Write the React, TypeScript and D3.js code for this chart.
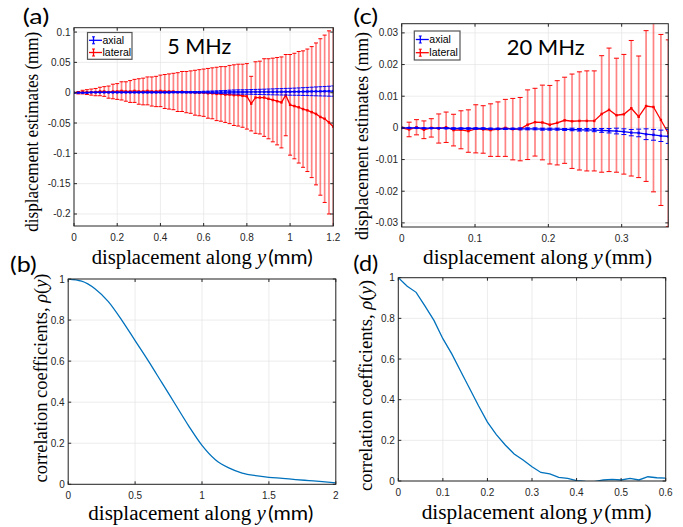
import React from "react";
import * as d3 from "d3";

// ---------- Panel (a): 5 MHz ----------
const aX = [0, 0.02, 0.04, 0.06, 0.08, 0.1, 0.12, 0.14, 0.16, 0.18, 0.2, 0.22, 0.24, 0.26, 0.28, 0.3, 0.32, 0.34, 0.36, 0.38, 0.4, 0.42, 0.44, 0.46, 0.48, 0.5, 0.52, 0.54, 0.56, 0.58, 0.6, 0.62, 0.64, 0.66, 0.68, 0.7, 0.72, 0.74, 0.76, 0.78, 0.8, 0.82, 0.84, 0.86, 0.88, 0.9, 0.92, 0.94, 0.96, 0.98, 1.0, 1.02, 1.04, 1.06, 1.08, 1.1, 1.12, 1.14, 1.16, 1.18, 1.2];
const aLatMean = [0, 0, 0.001, 0.001, 0.001, 0.001, 0.002, 0.002, 0.001, 0.002, 0.002, 0.003, 0.002, 0.002, 0.003, 0.002, 0.002, 0.003, 0.002, 0.002, 0.003, 0.002, 0.002, 0.002, 0.001, 0.002, 0.001, 0.001, 0, 0, 0, -0.001, -0.001, -0.002, -0.002, -0.003, -0.003, -0.004, -0.004, -0.005, -0.006, -0.018, -0.008, -0.008, -0.008, -0.01, -0.012, -0.014, -0.016, -0.004, -0.02, -0.022, -0.024, -0.027, -0.029, -0.032, -0.035, -0.04, -0.043, -0.049, -0.056];
const aLatErr = [0, 0.002, 0.003, 0.004, 0.005, 0.006, 0.007, 0.008, 0.01, 0.012, 0.013, 0.015, 0.016, 0.018, 0.019, 0.021, 0.022, 0.023, 0.024, 0.025, 0.026, 0.028, 0.029, 0.03, 0.032, 0.033, 0.034, 0.035, 0.037, 0.038, 0.039, 0.041, 0.042, 0.044, 0.045, 0.046, 0.048, 0.05, 0.051, 0.052, 0.054, 0.045, 0.059, 0.06, 0.064, 0.066, 0.069, 0.072, 0.075, 0.067, 0.083, 0.087, 0.092, 0.096, 0.101, 0.108, 0.117, 0.129, 0.138, 0.151, 0.175];
const aAxMean = [0, 0, 0, 0, 0.0005, 0.0005, 0.0005, 0.0005, 0.0005, 0.0005, 0.0005, 0.0005, 0.0005, 0.0005, 0.0005, 0.0005, 0.0005, 0.0005, 0.0005, 0.0005, 0.0005, 0.0005, 0.0005, 0.0008, 0.0008, 0.0008, 0.0008, 0.0008, 0.0008, 0.0008, 0.001, 0.001, 0.001, 0.001, 0.001, 0.001, 0.0012, 0.0012, 0.0012, 0.0012, 0.0012, 0.0013, 0.0013, 0.0013, 0.0013, 0.0014, 0.0014, 0.0015, 0.0015, 0.0016, 0.0016, 0.0017, 0.0018, 0.0019, 0.002, 0.0021, 0.0022, 0.0023, 0.0024, 0.0025, 0.0027];
const aAxErr = [0, 0.0001, 0.0001, 0.0001, 0.0001, 0.0002, 0.0002, 0.0002, 0.0002, 0.0003, 0.0003, 0.0003, 0.0003, 0.0004, 0.0004, 0.0004, 0.0004, 0.0005, 0.0005, 0.0005, 0.0005, 0.0006, 0.0006, 0.0007, 0.0007, 0.0008, 0.0009, 0.001, 0.0011, 0.0012, 0.0013, 0.0015, 0.0018, 0.0021, 0.0024, 0.0027, 0.003, 0.0033, 0.0035, 0.0036, 0.0037, 0.0039, 0.0041, 0.0043, 0.0045, 0.0047, 0.0049, 0.0051, 0.0053, 0.0055, 0.0057, 0.0059, 0.0061, 0.0064, 0.0067, 0.007, 0.0073, 0.0076, 0.0079, 0.0082, 0.0085];
const aXTicks = [0, 0.2, 0.4, 0.6, 0.8, 1, 1.2];
const aXTickLabels = ["0", "0.2", "0.4", "0.6", "0.8", "1", "1.2"];
const aYTicks = [-0.2, -0.15, -0.1, -0.05, 0, 0.05, 0.1];
const aYTickLabels = ["-0.2", "-0.15", "-0.1", "-0.05", "0", "0.05", "0.1"];

// ---------- Panel (c): 20 MHz ----------
const cX = [0, 0.0101, 0.0202, 0.0303, 0.0404, 0.0505, 0.0606, 0.0707, 0.0808, 0.0909, 0.101, 0.1111, 0.1212, 0.1313, 0.1414, 0.1515, 0.1616, 0.1717, 0.1818, 0.1919, 0.202, 0.2121, 0.2222, 0.2323, 0.2424, 0.2525, 0.2626, 0.2727, 0.2828, 0.2929, 0.303, 0.3131, 0.3232, 0.3333, 0.3434, 0.3535, 0.3636];
const cLatMean = [0, -0.0005, 0.0002, -0.0006, 0, -0.0002, 0.0002, -0.0007, -0.0006, -0.001, -0.0003, -0.0005, -0.0007, -0.0004, 0, -0.0004, -0.0004, 0.001, 0.0018, 0.0017, 0.001, 0.0016, 0.0024, 0.0021, 0.0022, 0.0022, 0.0022, 0.0044, 0.0057, 0.004, 0.0043, 0.0062, 0.0035, 0.0069, 0.0066, 0.0025, -0.0017];
const cLatErr = [0.0002, 0.0023, 0.0024, 0.0028, 0.0029, 0.0046, 0.0048, 0.005, 0.006, 0.0067, 0.0076, 0.0075, 0.0083, 0.0086, 0.009, 0.0097, 0.01, 0.011, 0.0107, 0.0118, 0.0124, 0.0133, 0.0136, 0.0149, 0.0155, 0.0158, 0.0158, 0.0184, 0.0195, 0.018, 0.0189, 0.0214, 0.0192, 0.0238, 0.0268, 0.027, 0.0295];
const cAxMean = [0, 0, 0, -0.0001, -0.0001, -0.0001, -0.0001, -0.0002, -0.0002, -0.0002, -0.0002, -0.0002, -0.0003, -0.0003, -0.0003, -0.0003, -0.0003, -0.0003, -0.0003, -0.0004, -0.0004, -0.0004, -0.0005, -0.0005, -0.0006, -0.0006, -0.0007, -0.0008, -0.0009, -0.001, -0.0012, -0.0015, -0.0016, -0.002, -0.0022, -0.0025, -0.0027];
const cAxErr = [0.0001, 0.0001, 0.0001, 0.0001, 0.0001, 0.0001, 0.0002, 0.0002, 0.0002, 0.0002, 0.0002, 0.0002, 0.0002, 0.0002, 0.0002, 0.0002, 0.0003, 0.0003, 0.0003, 0.0003, 0.0003, 0.0003, 0.0003, 0.0004, 0.0004, 0.0004, 0.0005, 0.0006, 0.0007, 0.0009, 0.0009, 0.001, 0.0012, 0.0017, 0.0017, 0.0018, 0.0022];
const cXTicks = [0, 0.1, 0.2, 0.3];
const cXTickLabels = ["0", "0.1", "0.2", "0.3"];
const cYTicks = [-0.03, -0.02, -0.01, 0, 0.01, 0.02, 0.03];
const cYTickLabels = ["-0.03", "-0.02", "-0.01", "0", "0.01", "0.02", "0.03"];

// ---------- Panel (b): correlation, 5 MHz ----------
const bX = [0, 0.1, 0.2, 0.3, 0.4, 0.5, 0.6, 0.7, 0.8, 0.9, 1.0, 1.1, 1.2, 1.3, 1.4, 1.5, 1.6, 1.7, 1.8, 1.9, 2.0];
const bRho = [1.0, 0.99, 0.953, 0.89, 0.8, 0.7, 0.6, 0.495, 0.39, 0.285, 0.19, 0.12, 0.08, 0.055, 0.042, 0.034, 0.029, 0.023, 0.018, 0.013, 0.007];
const bXTicks = [0, 0.5, 1, 1.5, 2];
const bXTickLabels = ["0", "0.5", "1", "1.5", "2"];
const bYTicks = [0, 0.2, 0.4, 0.6, 0.8, 1];
const bYTickLabels = ["0", "0.2", "0.4", "0.6", "0.8", "1"];

// ---------- Panel (d): correlation, 20 MHz ----------
const dX = [0, 0.02, 0.04, 0.06, 0.08, 0.1, 0.12, 0.14, 0.16, 0.18, 0.2, 0.22, 0.24, 0.26, 0.28, 0.3, 0.32, 0.34, 0.36, 0.38, 0.4, 0.42, 0.44, 0.46, 0.48, 0.5, 0.52, 0.54, 0.56, 0.58, 0.6];
const dRho = [1.0, 0.958, 0.928, 0.86, 0.79, 0.7, 0.625, 0.54, 0.455, 0.37, 0.29, 0.228, 0.177, 0.133, 0.103, 0.07, 0.042, 0.035, 0.018, 0.013, 0.002, -0.002, -0.003, 0.005, 0.008, 0.005, 0.013, 0.005, 0.021, 0.016, 0.014];
const dXTicks = [0, 0.1, 0.2, 0.3, 0.4, 0.5, 0.6];
const dXTickLabels = ["0", "0.1", "0.2", "0.3", "0.4", "0.5", "0.6"];
const dYTicks = [0, 0.2, 0.4, 0.6, 0.8, 1];
const dYTickLabels = ["0", "0.2", "0.4", "0.6", "0.8", "1"];

const SERIF = "'Liberation Serif','Times New Roman',serif";
const SANS = "'Liberation Sans',Arial,sans-serif";
const CALI = "Lato,'Open Sans',sans-serif";
const AX = "#262626";
const RED = "#ff0000";
const BLUE = "#0000ff";
const MBLUE = "#0072BD";

type Lin = d3.ScaleLinear<number, number>;

function Frame(props: { id: string; x: Lin; y: Lin; xt: number[]; xl: string[]; yt: number[]; yl: string[]; children?: React.ReactNode }) {
  const { id, x, y, xt, xl, yt, yl, children } = props;
  const [l, r] = x.range();
  const [b, t] = y.range();
  const tk = 3;
  return (
    <g>
      <defs>
        <clipPath id={id}>
          <rect x={l} y={t} width={r - l} height={b - t} />
        </clipPath>
      </defs>
      <rect x={l} y={t} width={r - l} height={b - t} fill="#fff" />
      <g stroke="#e4e4e4" strokeWidth={0.7}>
        {xt.map((v, i) => (
          <line key={"gx" + i} x1={x(v)} x2={x(v)} y1={t} y2={b} />
        ))}
        {yt.map((v, i) => (
          <line key={"gy" + i} x1={l} x2={r} y1={y(v)} y2={y(v)} />
        ))}
      </g>
      <g clipPath={`url(#${id})`}>{children}</g>
      <rect x={l} y={t} width={r - l} height={b - t} fill="none" stroke={AX} strokeWidth={1} />
      <g stroke={AX} strokeWidth={1}>
        {xt.map((v, i) => (
          <g key={"tx" + i}>
            <line x1={x(v)} x2={x(v)} y1={b} y2={b - tk} />
            <line x1={x(v)} x2={x(v)} y1={t} y2={t + tk} />
          </g>
        ))}
        {yt.map((v, i) => (
          <g key={"ty" + i}>
            <line x1={l} x2={l + tk} y1={y(v)} y2={y(v)} />
            <line x1={r} x2={r - tk} y1={y(v)} y2={y(v)} />
          </g>
        ))}
      </g>
      <g fontFamily={SANS} fontSize={10} fill={AX}>
        {xt.map((v, i) => (
          <text key={"lx" + i} x={x(v)} y={b + 14.5} textAnchor="middle">
            {xl[i]}
          </text>
        ))}
        {yt.map((v, i) => (
          <text key={"ly" + i} x={l - 3.5} y={y(v)} dy="0.35em" textAnchor="end">
            {yl[i]}
          </text>
        ))}
      </g>
    </g>
  );
}

function ErrSeries(props: { x: Lin; y: Lin; xs: number[]; m: number[]; e: number[]; color: string; bar: string; cap: number }) {
  const { x, y, xs, m, e, color, bar, cap } = props;
  const line = d3
    .line<number>()
    .x((_, i) => x(xs[i]))
    .y((d) => y(d));
  return (
    <g>
      {xs.map((xv, i) => {
        const cx = x(xv);
        const ty = y(m[i] + e[i]);
        const by = y(m[i] - e[i]);
        return (
          <g key={i}>
            <line x1={cx} x2={cx} y1={ty} y2={by} stroke={bar} strokeWidth={1.7} />
            <line x1={cx - cap} x2={cx + cap} y1={ty} y2={ty} stroke={color} strokeWidth={1} />
            <line x1={cx - cap} x2={cx + cap} y1={by} y2={by} stroke={color} strokeWidth={1} />
          </g>
        );
      })}
      <path d={line(m) || ""} fill="none" stroke={color} strokeWidth={1.3} />
      {xs.map((xv, i) => (
        <rect key={"m" + i} x={x(xv) - 1.2} y={y(m[i]) - 1.2} width={2.4} height={2.4} fill={color} />
      ))}
    </g>
  );
}

function Legend(props: { x: number; y: number; w: number; h: number; y1: number; y2: number }) {
  const { x, y, w, h, y1, y2 } = props;
  const sx = x + 1.5;
  const ex = x + 14.5;
  const mx = x + 6;
  const entry = (yy: number, c: string, label: string) => (
    <g>
      <line x1={sx} x2={ex} y1={yy} y2={yy} stroke={c} strokeWidth={1.3} />
      <line x1={mx} x2={mx} y1={yy - 3.5} y2={yy + 3.5} stroke={c} strokeWidth={1.3} />
      <line x1={mx - 1.5} x2={mx + 1.5} y1={yy - 3.5} y2={yy - 3.5} stroke={c} strokeWidth={1} />
      <line x1={mx - 1.5} x2={mx + 1.5} y1={yy + 3.5} y2={yy + 3.5} stroke={c} strokeWidth={1} />
      <text x={ex + 0.5} y={yy} dy="0.35em" fontFamily={SANS} fontSize={10.5} fill="#000">
        {label}
      </text>
    </g>
  );
  return (
    <g>
      <rect x={x} y={y} width={w} height={h} fill="#fff" stroke="#555" strokeWidth={1.2} />
      {entry(y1, BLUE, "axial")}
      {entry(y2, RED, "lateral")}
    </g>
  );
}

function XLabel(props: { x: number; y: number; len: number; mmSans: boolean }) {
  const { x, y, len, mmSans } = props;
  return (
    <text x={x} y={y} fontFamily={SERIF} fontSize={20} fill="#000" textLength={len} lengthAdjust="spacingAndGlyphs">
      {"displacement along "}
      <tspan fontStyle="italic">y</tspan>
      <tspan fontFamily={mmSans ? CALI : SERIF} dx={2}>
        (mm)
      </tspan>
    </text>
  );
}

function YLabel(props: { x: number; cy: number; len: number; kind: "disp" | "corr" }) {
  const { x, cy, len, kind } = props;
  return (
    <text
      transform={`translate(${x},${cy}) rotate(-90)`}
      textAnchor="middle"
      fontFamily={SERIF}
      fontSize={19}
      fill="#000"
      textLength={len}
      lengthAdjust="spacingAndGlyphs"
    >
      {kind === "disp" ? (
        "displacement estimates (mm)"
      ) : (
        <>
          {"correlation coefficients, "}
          <tspan fontStyle="italic">ρ</tspan>
          {"("}
          <tspan fontStyle="italic">y</tspan>
          {")"}
        </>
      )}
    </text>
  );
}

export default function App() {
  const xA = d3.scaleLinear().domain([0, 1.2]).range([74, 333.3]);
  const yA = d3.scaleLinear().domain([-0.2198, 0.1072]).range([226, 27.7]);
  const xC = d3.scaleLinear().domain([0, 0.3636]).range([401.7, 668.3]);
  const yC = d3.scaleLinear().domain([-0.0313, 0.0329]).range([227, 23.7]);
  const xB = d3.scaleLinear().domain([0, 2]).range([68.2, 335.8]);
  const yB = d3.scaleLinear().domain([0, 1]).range([484.3, 279]);
  const xD = d3.scaleLinear().domain([0, 0.6]).range([398.3, 665.7]);
  const yD = d3.scaleLinear().domain([0, 1]).range([481, 277.7]);

  const lineB = d3
    .line<number>()
    .x((_, i) => xB(bX[i]))
    .y((d) => yB(d))
    .curve(d3.curveMonotoneX);
  const lineD = d3
    .line<number>()
    .x((_, i) => xD(dX[i]))
    .y((d) => yD(d));

  return (
    <svg width={683} height={527} style={{ position: "absolute", left: 0, top: 0, background: "#fff" }}>
      <rect x={0} y={0} width={683} height={527} fill="#fff" />

      {/* (a) */}
      <Frame id="clipA" x={xA} y={yA} xt={aXTicks} xl={aXTickLabels} yt={aYTicks} yl={aYTickLabels}>
        <ErrSeries x={xA} y={yA} xs={aX} m={aLatMean} e={aLatErr} color={RED} bar="rgba(255,30,30,0.55)" cap={2} />
        <ErrSeries x={xA} y={yA} xs={aX} m={aAxMean} e={aAxErr} color={BLUE} bar="rgba(40,40,255,0.5)" cap={2} />
      </Frame>
      <Legend x={87.5} y={32.5} w={44.5} h={26.8} y1={40.3} y2={52.5} />
      <text x={167.3} y={54} fontFamily={CALI} fontSize={20.5} textLength={64} lengthAdjust="spacingAndGlyphs" fill="#000">
        5 MHz
      </text>

      {/* (c) */}
      <Frame id="clipC" x={xC} y={yC} xt={cXTicks} xl={cXTickLabels} yt={cYTicks} yl={cYTickLabels}>
        <ErrSeries x={xC} y={yC} xs={cX} m={cLatMean} e={cLatErr} color={RED} bar="rgba(255,30,30,0.55)" cap={2.5} />
        <ErrSeries x={xC} y={yC} xs={cX} m={cAxMean} e={cAxErr} color={BLUE} bar="rgba(40,40,255,0.5)" cap={2.5} />
      </Frame>
      <Legend x={414.3} y={31} w={45.7} h={29} y1={39.5} y2={52.7} />
      <text x={506.7} y={55} fontFamily={CALI} fontSize={21} textLength={78} lengthAdjust="spacingAndGlyphs" fill="#000">
        20 MHz
      </text>

      {/* (b) */}
      <Frame id="clipB" x={xB} y={yB} xt={bXTicks} xl={bXTickLabels} yt={bYTicks} yl={bYTickLabels}>
        <path d={lineB(bRho) || ""} fill="none" stroke={MBLUE} strokeWidth={1.3} />
      </Frame>

      {/* (d) */}
      <Frame id="clipD" x={xD} y={yD} xt={dXTicks} xl={dXTickLabels} yt={dYTicks} yl={dYTickLabels}>
        <path d={lineD(dRho) || ""} fill="none" stroke={MBLUE} strokeWidth={1.3} />
      </Frame>

      {/* axis labels */}
      <XLabel x={91.7} y={264} len={221} mmSans={true} />
      <XLabel x={423} y={264} len={229} mmSans={false} />
      <XLabel x={88.3} y={519.5} len={225} mmSans={true} />
      <XLabel x={421.7} y={519} len={230} mmSans={false} />
      <YLabel x={37.5} cy={131.7} len={200} kind="disp" />
      <YLabel x={367.5} cy={136} len={208} kind="disp" />
      <YLabel x={47} cy={378} len={209} kind="corr" />
      <YLabel x={372} cy={385.5} len={211} kind="corr" />

      {/* panel labels */}
      <g fontFamily={CALI} fontSize={21} fill="#000">
        <text x={22.7} y={24.3} textLength={26.6} lengthAdjust="spacingAndGlyphs">(a)</text>
        <text x={353.3} y={24.3} textLength={25} lengthAdjust="spacingAndGlyphs">(c)</text>
        <text x={10} y={272} textLength={26.7} lengthAdjust="spacingAndGlyphs">(b)</text>
        <text x={353.3} y={271} textLength={25} lengthAdjust="spacingAndGlyphs">(d)</text>
      </g>
    </svg>
  );
}
